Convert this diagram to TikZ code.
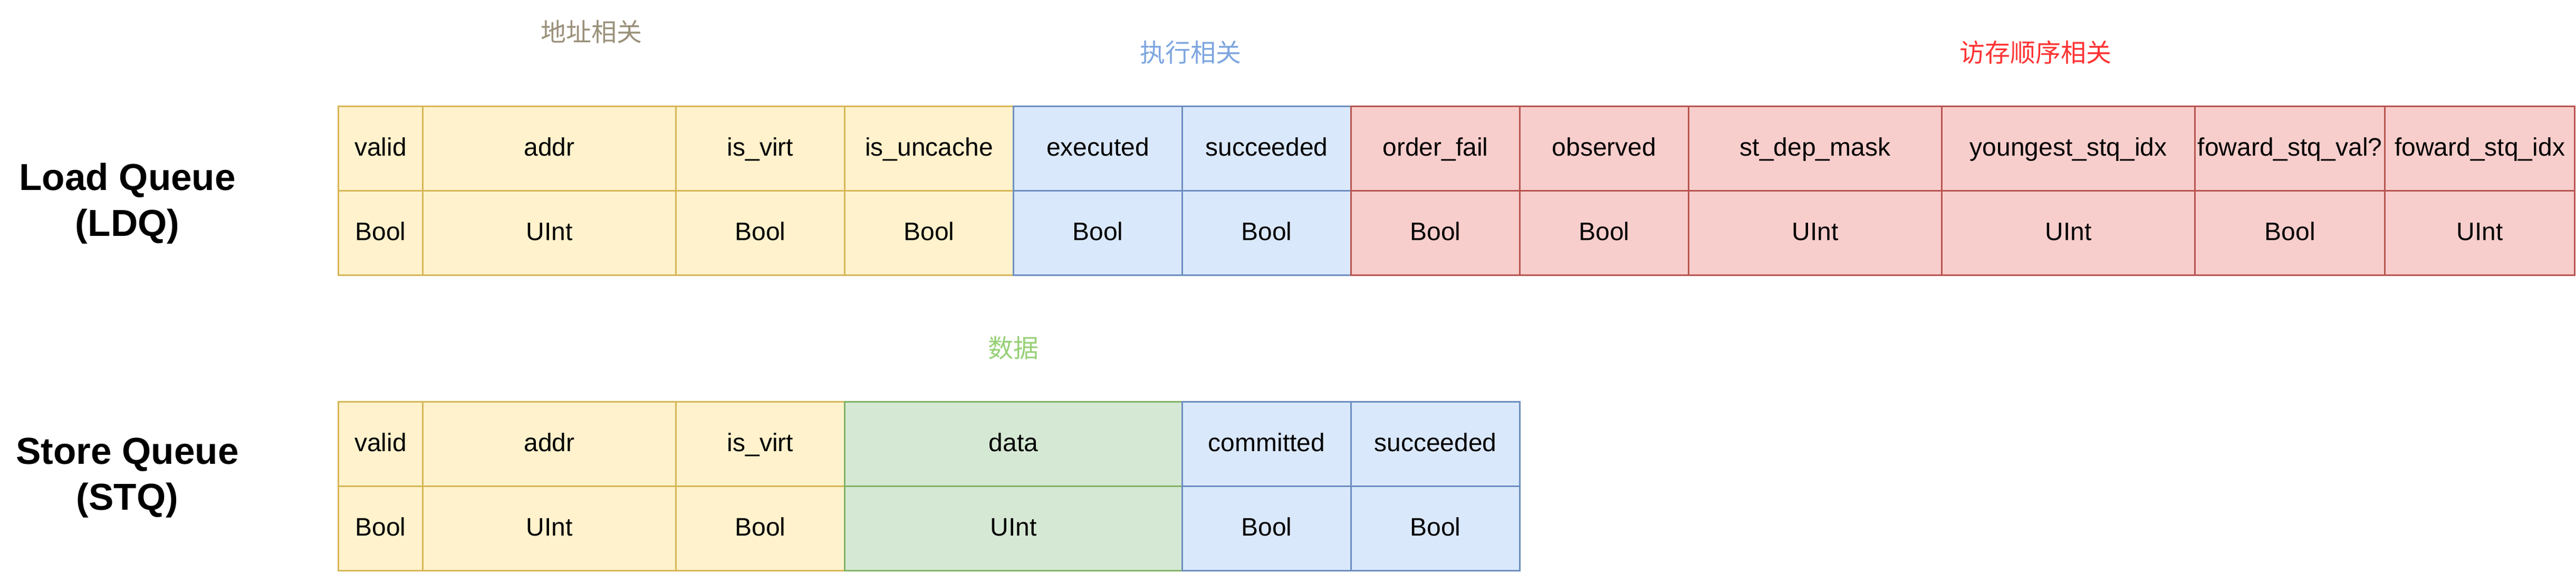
\documentclass[tikz,border=0pt]{standalone}
\usepackage{fontspec}
\setmainfont{Liberation Sans}
\newfontfamily\cjk{Noto Sans CJK SC}
\definecolor{addrfill}{HTML}{FFF2CC}
\definecolor{addrline}{HTML}{D6B656}
\definecolor{exefill}{HTML}{DAE8FC}
\definecolor{exeline}{HTML}{6C8EBF}
\definecolor{ordfill}{HTML}{F8CECC}
\definecolor{ordline}{HTML}{B85450}
\definecolor{datfill}{HTML}{D5E8D4}
\definecolor{datline}{HTML}{82B366}
\definecolor{addrtext}{RGB}{154,145,122}
\definecolor{exetext}{HTML}{7EA6E0}
\definecolor{ordtext}{HTML}{FF3333}
\definecolor{dattext}{HTML}{97D077}

\begin{document}
\begin{tikzpicture}[x=1pt, y=-1pt,
		cell/.style={draw=#1line, fill=#1fill, line width=1pt, inner sep=0pt, minimum height=50pt,
			text height=12pt, text depth=3pt, font=\fontsize{15}{18}\selectfont},
		queue/.style={font=\fontsize{22.2}{27}\selectfont\bfseries, align=center, inner sep=0pt},
		group/.style={font=\cjk\fontsize{15}{18}\selectfont, inner sep=0pt}]
				\useasboundingbox (-0.5,0) rectangle (1525.75,338.75);
				\node[queue] (ldq) at (75,120.5) {Load Queue\\(LDQ)};
				\node[queue] (stq) at (75,283) {Store Queue\\(STQ)};
				\foreach \x/\w/\t/\ty/\g [count=\i] in {200/50/valid/Bool/addr, 250/150/addr/UInt/addr,
						400/100/is\_virt/Bool/addr, 500/100/is\_uncache/Bool/addr,
						600/100/executed/Bool/exe, 700/100/succeeded/Bool/exe,
						800/100/order\_fail/Bool/ord, 900/100/observed/Bool/ord,
						1000/150/st\_dep\_mask/UInt/ord, 1150/150/youngest\_stq\_idx/UInt/ord,
						1300/112.5/foward\_stq\_val?/Bool/ord, 1412.5/112.5/foward\_stq\_idx/UInt/ord} {
					\node[cell=\g, minimum width=\w pt] (ldq-name-\i) at (\x+\w/2, 88) {\t};
					\node[cell=\g, minimum width=\w pt] (ldq-type-\i) at (\x+\w/2, 138) {\ty};
				}
				\foreach \x/\w/\t/\ty/\g [count=\i] in {200/50/valid/Bool/addr, 250/150/addr/UInt/addr,
						400/100/is\_virt/Bool/addr, 500/200/data/UInt/dat,
						700/100/committed/Bool/exe, 800/100/succeeded/Bool/exe} {
					\node[cell=\g, minimum width=\w pt] (stq-name-\i) at (\x+\w/2, 263) {\t};
					\node[cell=\g, minimum width=\w pt] (stq-type-\i) at (\x+\w/2, 313) {\ty};
				}
				\node[group, text=addrtext] (addr-tag) at (350,18.7) {地址相关};
				\node[group, text=exetext] (exe-tag) at (705,31) {执行相关};
				\node[group, text=ordtext] (ord-tag) at (1205.5,31) {访存顺序相关};
				\node[group, text=dattext] (dat-tag) at (600,206) {数据};
			\end{tikzpicture}
\end{document}
